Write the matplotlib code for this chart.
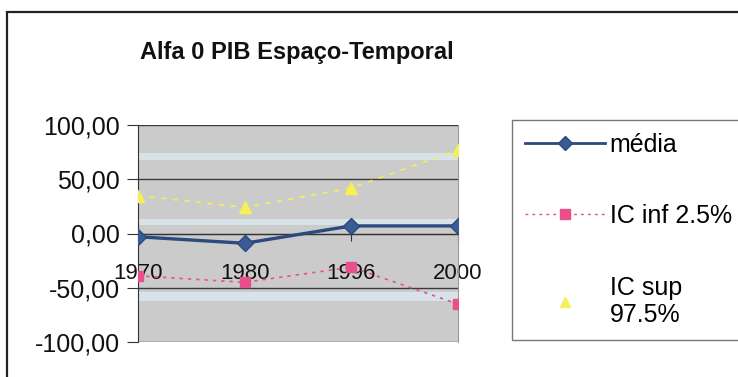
import numpy as np
import matplotlib.pyplot as plt
from matplotlib.patches import Rectangle
from matplotlib.lines import Line2D

plt.rcParams['font.family'] = ['Liberation Sans', 'DejaVu Sans']

# Alfa 0 do PIB por período
anos = ["1970", "1980", "1996", "2000"]
media = [-3, -9, 7, 7]
ic_inf = [-39, -45, -31, -65]
ic_sup = [35, 24, 42, 77]

C_MEDIA = "#2c4a7e"
C_INF = "#e8508c"
C_SUP = "#f6ef55"

fig = plt.figure(figsize=(7.38, 3.77), dpi=100)
W, H = 738, 377

# moldura do gráfico
fig.patches.append(Rectangle((7 / W, -0.1), 1.2, (H - 12) / H + 0.1,
                             transform=fig.transFigure, fill=False,
                             edgecolor="#222222", linewidth=1.6))

ax = fig.add_axes([138 / W, (H - 342) / H, 320 / W, 217 / H])
ax.set_facecolor("#cbcbcb")

x = np.arange(len(anos))
ax.set_xlim(0, len(anos) - 1)
ax.set_ylim(-100, 100)

ax.spines["bottom"].set_position(("data", 0))
ax.spines["bottom"].set_color("#333333")
ax.spines["top"].set_visible(False)
ax.spines["right"].set_color("#9a9a9a")
ax.spines["left"].set_color("#333333")

# faixas claras do fundo
for lo, hi in [(68, 74), (8, 13), (-62, -54)]:
    ax.axhspan(lo, hi, color="#dbe9f1", alpha=0.8, lw=0, zorder=0)

yt = [-100, -50, 0, 50, 100]
ax.set_yticks(yt)
ax.set_yticklabels([f"{v:.2f}".replace(".", ",") for v in yt])
for v in yt:
    ax.axhline(v, color="#3a3a3a", lw=1.0, zorder=1)

ax.plot(x, ic_sup, color=C_SUP, ls=(0, (3, 4)), lw=1.2, marker="^",
        ms=9, mec=C_SUP, mfc=C_SUP, zorder=3, label="IC sup\n97.5%")
ax.plot(x, ic_inf, color=C_INF, ls=(0, (2, 3)), lw=1.2, marker="s",
        ms=7, mec=C_INF, mfc=C_INF, zorder=3, label="IC inf 2.5%")
ax.plot(x, media, color=C_MEDIA, lw=2.4, marker="D", ms=8,
        mec=C_MEDIA, mfc="#3b5b94", zorder=4, label="média")

ax.set_xticks(x)
ax.set_xticklabels(anos)
ax.tick_params(axis="x", direction="out", length=5, pad=16, colors="#333333",
               labelcolor="#111111", labelsize=16)
ax.tick_params(axis="y", direction="out", length=8, pad=5, colors="#333333",
               labelcolor="#111111", labelsize=18)

fig.text(297 / W, 1 - 53 / H, "Alfa 0 PIB Espaço-Temporal", fontsize=17,
         fontweight="bold", ha="center", va="center", color="#111111")

handles = [
    Line2D([], [], color=C_MEDIA, lw=2, marker="D", ms=7, mfc="#3b5b94", mec=C_MEDIA),
    Line2D([], [], color=C_INF, lw=1, ls=(0, (2, 3)), marker="s", ms=7, mfc=C_INF, mec=C_INF),
    Line2D([], [], color=C_SUP, lw=1, ls="none", marker="^", ms=7, mfc=C_SUP, mec=C_SUP),
]
labels = ["média", "IC inf 2.5%", "IC sup\n97.5%"]
leg = fig.legend(handles, labels, loc="upper left",
                 bbox_to_anchor=(512 / W, (H - 345) / H, 240 / W, 225 / H),
                 mode="expand", fontsize=18,
                 frameon=True, fancybox=False, edgecolor="#555555",
                 handlelength=3.2, handletextpad=0.2, labelspacing=1.9,
                 borderpad=0.5, borderaxespad=0)
leg.get_frame().set_linewidth(1.0)

fig.savefig("out.png", dpi=100, facecolor="white")
